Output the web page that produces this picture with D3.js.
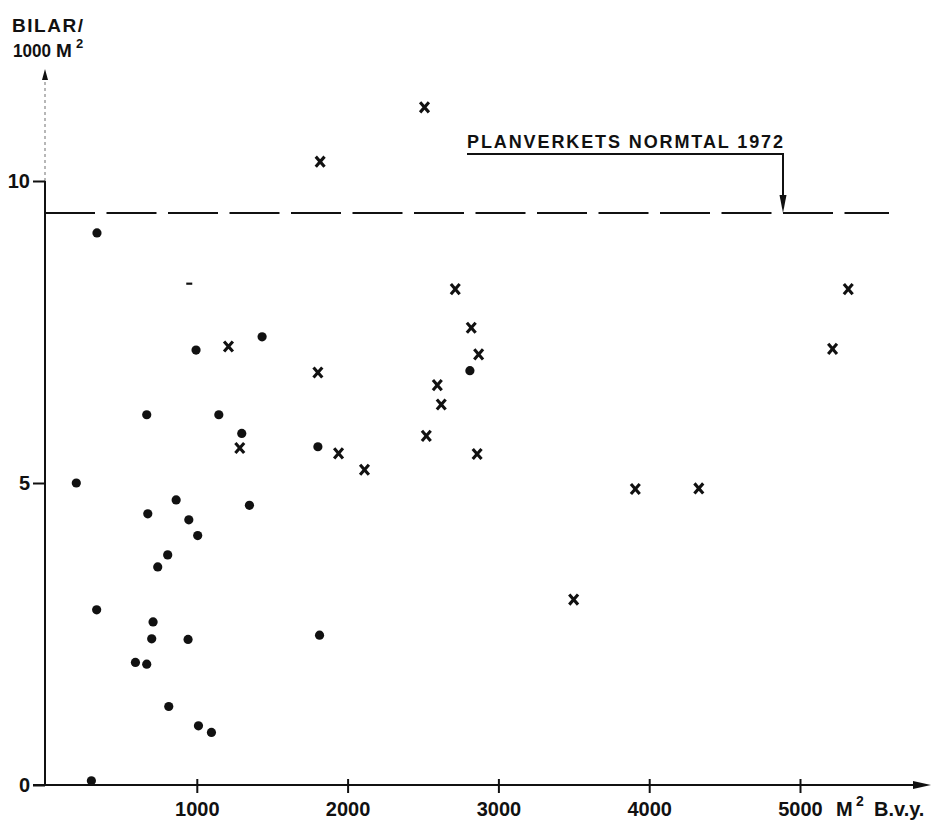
<!DOCTYPE html>
<html>
<head>
<meta charset="utf-8">
<script src="https://cdn.jsdelivr.net/npm/d3@7/dist/d3.min.js"></script>
<style>
  html, body { margin: 0; padding: 0; background: #fff; }
  svg { display: block; }
  text { font-family: "Liberation Sans", Arial, sans-serif; font-weight: bold; fill: #111; }
</style>
</head>
<body>
<svg id="chart" width="932" height="820"></svg>
<script>
// Parking supply: cars per 1000 m² vs. gross floor area (m² B.v.y.)
const xTicks = [1000, 2000, 3000, 4000, 5000];
const yTicks = [0, 5, 10];
const normValue = 9.47;           // Planverkets normtal 1972
const normLabel = "PLANVERKETS NORMTAL 1972";

// Filled dots
const dotArea  = [668, 1146, 1298, 201, 863, 1349, 675, 947, 1006, 807, 741, 336, 710, 701,
                  942, 593, 668, 814, 1011, 1097, 301, 338, 995, 1433, 1803, 1814, 2811];
const dotCars  = [6.13, 6.13, 5.82, 5.00, 4.72, 4.63, 4.49, 4.39, 4.13, 3.81, 3.61, 2.90, 2.70, 2.42,
                  2.41, 2.03, 2.00, 1.30, 0.98, 0.87, 0.07, 9.14, 7.20, 7.42, 5.60, 2.48, 6.86];

// Crosses
const crossArea = [1285, 1210, 1803, 2820, 2869, 2595, 2621, 2522, 2859, 1940, 2112, 2510, 1818,
                   2714, 3908, 4329, 3499, 5320, 5216];
const crossCars = [5.58, 7.26, 6.83, 7.57, 7.13, 6.62, 6.30, 5.78, 5.48, 5.49, 5.22, 11.22, 10.32,
                   8.21, 4.90, 4.91, 3.07, 8.21, 7.22];

// Single dash mark
const dashArea = [950];
const dashCars = [8.30];

const svg = d3.select("#chart");
const ink = "#111";

const x = d3.scaleLinear().domain([0, 5000]).range([46, 800]);
const y = d3.scaleLinear().domain([0, 10]).range([785, 181]);

// ---- x axis ----
svg.append("line")
  .attr("x1", 33).attr("x2", 918).attr("y1", y(0)).attr("y2", y(0))
  .attr("stroke", ink).attr("stroke-width", 2);
svg.append("path")
  .attr("d", `M931,${y(0)} L913,${y(0) - 4} L913,${y(0) + 4} Z`)
  .attr("fill", ink);

const xAxis = svg.append("g")
  .attr("transform", `translate(0,${y(0)})`)
  .call(d3.axisBottom(x).tickValues(xTicks).tickFormat(d3.format("d")).tickSize(8));
xAxis.select(".domain").remove();
xAxis.selectAll(".tick line").attr("y1", -6).attr("y2", 8).attr("stroke", ink).attr("stroke-width", 2);
xAxis.selectAll(".tick text")
  .attr("font-size", 20).attr("font-family", null).attr("fill", ink)
  .attr("y", 31).attr("dy", null);

// x unit label
svg.append("text").attr("x", 836).attr("y", 816).attr("font-size", 20).text("M");
svg.append("text").attr("x", 856).attr("y", 806).attr("font-size", 14).text("2");
svg.append("text").attr("x", 874).attr("y", 816).attr("font-size", 20).text("B.v.y.");

// ---- y axis ----
svg.append("line")
  .attr("x1", 45).attr("x2", 45).attr("y1", y(0)).attr("y2", y(10))
  .attr("stroke", ink).attr("stroke-width", 2);
svg.append("line")
  .attr("x1", 45).attr("x2", 45).attr("y1", y(10)).attr("y2", 80)
  .attr("stroke", "#888").attr("stroke-width", 1.2).attr("stroke-dasharray", "3,3");
svg.append("path")
  .attr("d", "M45,69 L42,80 L48,80 Z")
  .attr("fill", ink);

const yAxis = svg.append("g")
  .attr("transform", "translate(45,0)")
  .call(d3.axisLeft(y).tickValues(yTicks).tickSize(12).tickPadding(3));
yAxis.select(".domain").remove();
yAxis.selectAll(".tick line").attr("stroke", ink).attr("stroke-width", 2);
yAxis.selectAll(".tick text")
  .attr("font-size", 20).attr("font-family", null).attr("fill", ink);

// y title
svg.append("text").attr("x", 12).attr("y", 32).attr("font-size", 19)
  .attr("textLength", 71).attr("lengthAdjust", "spacing").text("BILAR/");
svg.append("text").attr("x", 13).attr("y", 57).attr("font-size", 18)
  .attr("textLength", 38).attr("lengthAdjust", "spacingAndGlyphs").text("1000");
svg.append("text").attr("x", 56).attr("y", 57).attr("font-size", 19).text("M");
svg.append("text").attr("x", 76).attr("y", 48).attr("font-size", 13).text("2");

// ---- norm line ----
const ny = y(normValue);
svg.append("line")
  .attr("x1", 45).attr("x2", 889).attr("y1", ny).attr("y2", ny)
  .attr("stroke", ink).attr("stroke-width", 2).attr("stroke-dasharray", "50,11.5");

svg.append("text").attr("x", 467).attr("y", 148).attr("font-size", 18)
  .attr("textLength", 316).attr("lengthAdjust", "spacing").text(normLabel);
svg.append("polyline")
  .attr("points", `467,154 783,154 783,${ny - 16}`)
  .attr("fill", "none").attr("stroke", ink).attr("stroke-width", 2);
svg.append("path")
  .attr("d", `M783,${ny} L779.5,${ny - 18} L786.5,${ny - 18} Z`)
  .attr("fill", ink);

// ---- marks ----
svg.append("g").selectAll("circle")
  .data(d3.zip(dotArea, dotCars))
  .join("circle")
  .attr("cx", d => x(d[0])).attr("cy", d => y(d[1]))
  .attr("r", 4.6).attr("fill", ink);

const cs = 4.4;
svg.append("g").selectAll("path")
  .data(d3.zip(crossArea, crossCars))
  .join("path")
  .attr("d", d => {
    const cx = x(d[0]), cy = y(d[1]);
    return `M${cx - cs},${cy - cs * 1.15} L${cx + cs},${cy + cs * 1.15} M${cx + cs},${cy - cs * 1.15} L${cx - cs},${cy + cs * 1.15}`;
  })
  .attr("stroke", ink).attr("stroke-width", 3.1).attr("fill", "none");

svg.append("g").selectAll("line")
  .data(d3.zip(dashArea, dashCars))
  .join("line")
  .attr("x1", d => x(d[0]) - 3).attr("x2", d => x(d[0]) + 3)
  .attr("y1", d => y(d[1])).attr("y2", d => y(d[1]))
  .attr("stroke", ink).attr("stroke-width", 2.2);
</script>
</body>
</html>
